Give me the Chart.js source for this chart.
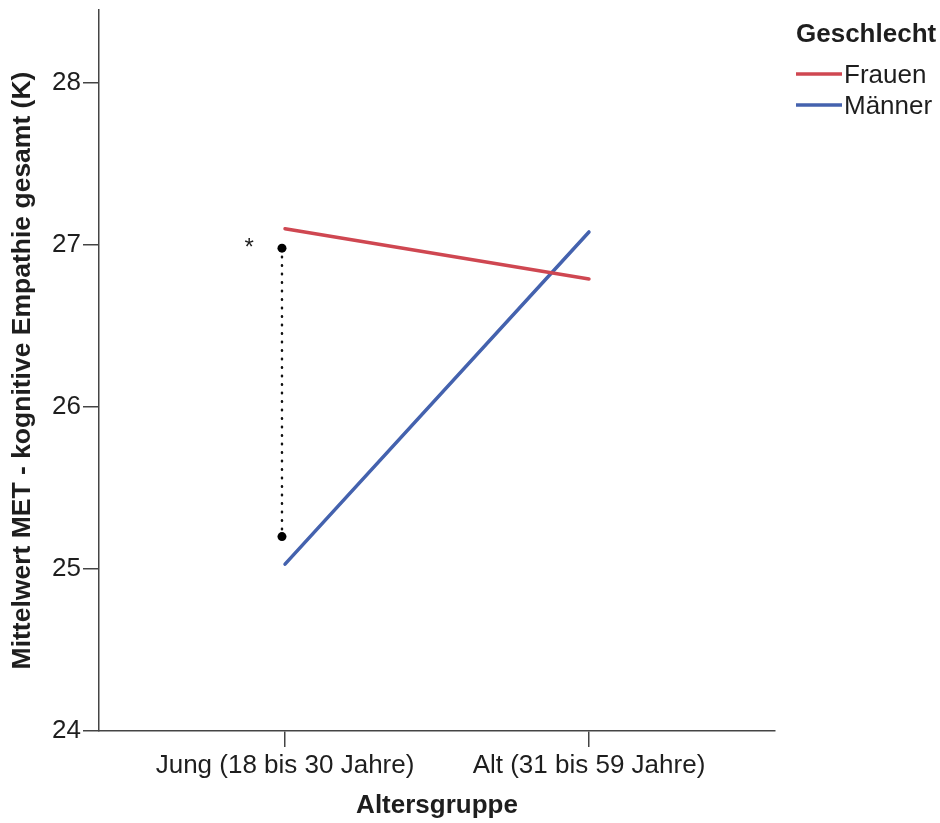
<!DOCTYPE html>
<html><head><meta charset="utf-8">
<script src="https://cdn.jsdelivr.net/npm/chart.js@4/dist/chart.umd.min.js"></script>
<style>html,body{margin:0;padding:0;background:#fff}#wrap{width:940px;height:823px;position:relative}</style>
</head><body><div id="wrap"><canvas id="c" width="940" height="823"></canvas></div>
<script>
// ---- data ----
const categories = ['Jung (18 bis 30 Jahre)', 'Alt (31 bis 59 Jahre)'];
const seriesNames = ['Frauen', 'Männer'];
const frauen = [27.10, 26.79];
const maenner = [25.03, 27.08];
const sigValues = [26.98, 25.20];
const sigXPos = -0.01;
const sigMark = '*';
const sigMarkPos = [-0.118, 27.0];
const yTicks = [24, 25, 26, 27, 28];
const legendTitle = 'Geschlecht';
const xTitle = 'Altersgruppe';
const yTitle = 'Mittelwert MET - kognitive Empathie gesamt (K)';

// ---- style ----
const FONT = "'Liberation Sans', Arial, Helvetica, sans-serif";
const textColor = '#1e1e1e';
const axisColor = '#444';
const colors = ['#cf4751', '#4462ae'];

const legendPlugin = {
  id: 'customLegend',
  afterDraw(chart) {
    const ctx = chart.ctx;
    ctx.save();
    ctx.fillStyle = textColor;
    ctx.textBaseline = 'middle';
    ctx.textAlign = 'left';
    ctx.font = 'bold 26px ' + FONT;
    ctx.fillText(legendTitle, 796, 35);
    ctx.font = '26px ' + FONT;
    seriesNames.forEach((n, i) => {
      const y = 74 + i * 31;
      ctx.strokeStyle = colors[i];
      ctx.lineWidth = 3.5;
      ctx.beginPath();
      ctx.moveTo(796, y);
      ctx.lineTo(842, y);
      ctx.stroke();
      ctx.fillText(n, 844, y + 2);
    });
    // significance mark
    const xs = chart.scales.x, ys = chart.scales.y;
    ctx.font = '24px ' + FONT;
    ctx.textAlign = 'center';
    ctx.fillText(sigMark, xs.getPixelForValue(sigMarkPos[0]), ys.getPixelForValue(sigMarkPos[1]) + 3);
    ctx.restore();
  }
};

const tickFont = { family: FONT, size: 26 };
const titleFont = { family: FONT, size: 26, weight: 'bold' };

new Chart(document.getElementById('c'), {
  type: 'line',
  data: {
    datasets: [
      { label: seriesNames[0], data: frauen.map((v, i) => ({ x: i, y: v })), borderColor: colors[0], borderWidth: 3.5, pointRadius: 0, borderCapStyle: 'round', clip: false },
      { label: seriesNames[1], data: maenner.map((v, i) => ({ x: i, y: v })), borderColor: colors[1], borderWidth: 3.5, pointRadius: 0, borderCapStyle: 'round', clip: false },
      { label: 'sig', data: sigValues.map(v => ({ x: sigXPos, y: v })), borderColor: '#111', borderWidth: 2.5, borderDash: [0.5, 8], borderCapStyle: 'round', pointRadius: 4.5, pointBackgroundColor: '#000', pointBorderColor: '#000', pointBorderWidth: 0, clip: false }
    ]
  },
  options: {
    responsive: false,
    animation: false,
    devicePixelRatio: 1,
    layout: { padding: { top: 10, right: 165, left: 0, bottom: 0 } },
    plugins: { legend: { display: false }, tooltip: { enabled: false } },
    scales: {
      x: {
        type: 'linear', min: -0.612, max: 1.612,
        afterBuildTicks: s => { s.ticks = categories.map((c, i) => ({ value: i })); },
        afterFit: s => { s.height = 92; s.paddingLeft = 0; s.paddingRight = 0; },
        ticks: { callback: v => categories[v], font: tickFont, color: textColor, padding: 3, maxRotation: 0, autoSkip: false },
        grid: { drawOnChartArea: false, drawTicks: true, tickLength: 16, color: axisColor, lineWidth: 1.5 },
        border: { color: axisColor, width: 1.5 },
        title: { display: true, text: xTitle, font: titleFont, color: textColor, padding: { top: 0, bottom: 2 } }
      },
      y: {
        min: 24, max: 28.45,
        afterBuildTicks: s => { s.ticks = yTicks.map(v => ({ value: v })); },
        afterFit: s => { s.width = 99; s.paddingTop = 0; s.paddingBottom = 0; },
        ticks: { font: tickFont, color: textColor, padding: 2 },
        grid: { drawOnChartArea: false, drawTicks: true, tickLength: 16, color: axisColor, lineWidth: 1.5 },
        border: { color: axisColor, width: 1.5 },
        title: { display: true, text: yTitle, font: { family: FONT, size: 26.5, weight: 'bold' }, color: textColor, padding: { top: 7, bottom: 0 } }
      }
    }
  },
  plugins: [legendPlugin]
});
</script></body></html>
